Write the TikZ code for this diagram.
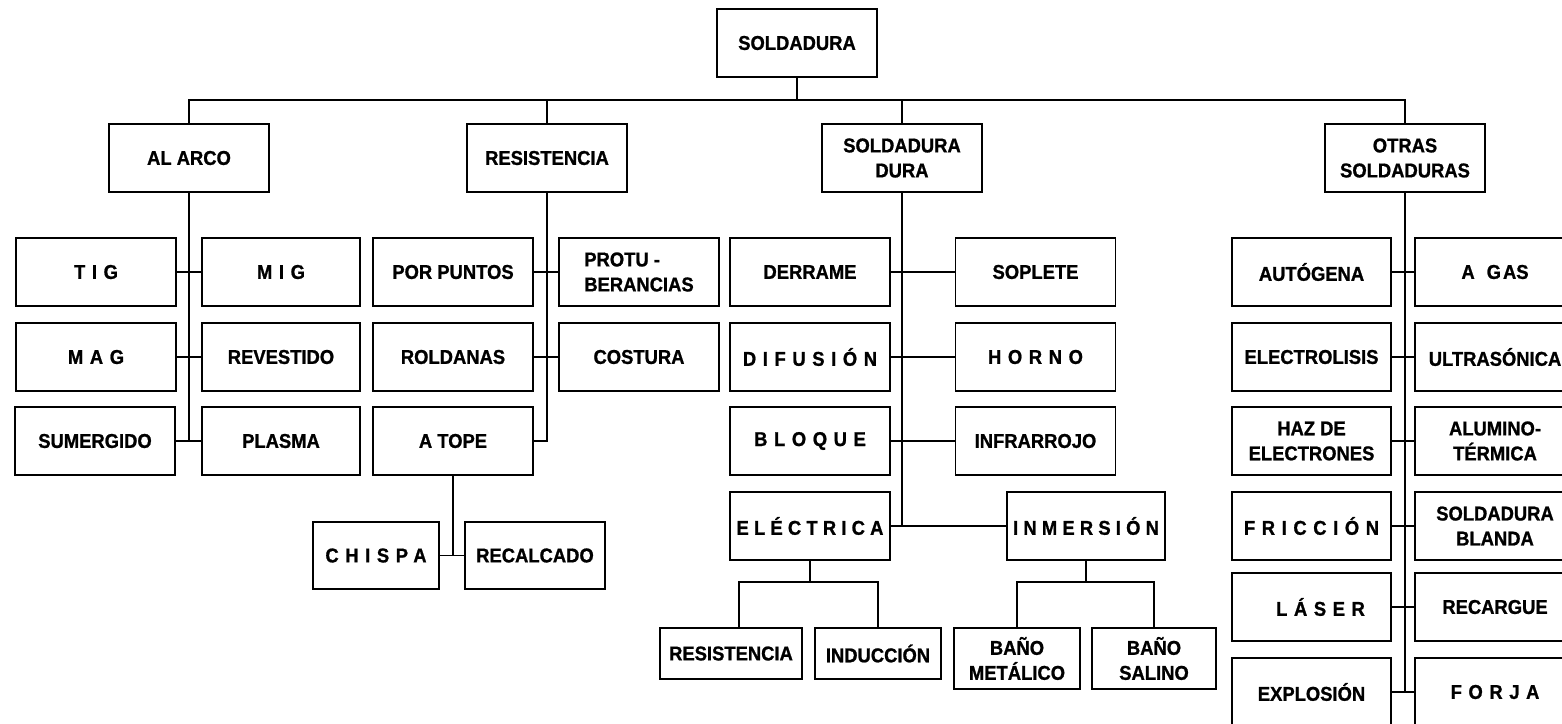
\documentclass[tikz,border=0pt]{standalone}
\usepackage{fontspec}
\setmainfont{Liberation Sans}[FakeStretch=0.92,BoldFeatures={FakeBold=1}]
\newcommand\lsp[1]{{\addfontfeature{LetterSpace=33}#1}}
\newcommand\lspn[1]{{\addfontfeature{LetterSpace=26}#1}}
\begin{document}
\begin{tikzpicture}[x=1pt,y=-1pt,
  box/.style={draw,line width=1.9pt,inner sep=0pt,minimum width=160pt,minimum height=68pt,
    align=center,font=\fontsize{20}{25}\selectfont\bfseries},
  link/.style={line width=1.9pt}]
\useasboundingbox (0,0) rectangle (1562,723);
\clip (0,0) rectangle (1562,723);
% root
\node[box] (root) at (797,43) {SOLDADURA};
% level 1
\node[box] (arco) at (189,158) {AL ARCO};
\node[box] (res) at (547,158) {RESISTENCIA};
\node[box] (dura) at (902,158) {SOLDADURA\\DURA};
\node[box] (otras) at (1405,158) {OTRAS\\SOLDADURAS};
% al arco
\node[box,minimum width=160pt] (tig) at (96,272) {\lsp{TIG}};
\node[box,minimum width=158pt] (mig) at (281,272) {\lsp{MIG}};
\node[box,minimum width=160pt] (mag) at (96,357) {\lsp{MAG}};
\node[box,minimum width=158pt] (rev) at (281,357) {REVESTIDO};
\node[box,minimum width=160pt] (sum) at (95,441) {SUMERGIDO};
\node[box,minimum width=158pt] (pla) at (281,441) {PLASMA};
% resistencia
\node[box] (pun) at (453,272) {POR PUNTOS};
\node[box,align=left] (pro) at (639,272) {PROTU -\\BERANCIAS};
\node[box] (rol) at (453,357) {ROLDANAS};
\node[box] (cos) at (639,357) {COSTURA};
\node[box] (top) at (453,441) {A TOPE};
\node[box,minimum width=126pt,minimum height=67pt] (chi) at (376,555.5) {\lsp{CHISPA}};
\node[box,minimum width=140pt,minimum height=67pt] (rec) at (535,555.5) {RECALCADO};
% soldadura dura
\node[box] (der) at (810,272) {DERRAME};
\node[box] (sop) at (1035.5,272) {SOPLETE};
\node[box] (dif) at (810,357) {\lsp{DIFUSIÓN}};
\node[box] (hor) at (1035.5,357) {\lsp{HORNO}};
\node[box] (blo) at (810,441) {\lsp{BLOQUE}};
\node[box] (inf) at (1035.5,441) {INFRARROJO};
\node[box] (ele) at (810,526) {\lspn{ELÉCTRICA}};
\node[box,minimum width=158pt] (inm) at (1086,526) {\lspn{INMERSIÓN}};
\node[box,minimum width=142pt,minimum height=51pt] (res2) at (731,653.5) {RESISTENCIA};
\node[box,minimum width=126pt,minimum height=51pt] (ind) at (878,653.5) {INDUCCIÓN};
\node[box,minimum width=126pt,minimum height=61pt] (bm) at (1017,658.5) {BAÑO\\METÁLICO};
\node[box,minimum width=124pt,minimum height=61pt] (bs) at (1154,658.5) {BAÑO\\SALINO};
% otras
\node[box,minimum width=159pt] (aut) at (1311.5,272) {AUTÓGENA};
\node[box] (gas) at (1495,272) {A\hspace{0.6em}G\hspace{0.1em}AS};
\node[box,minimum width=159pt] (elt) at (1311.5,357) {ELECTROLISIS};
\node[box] (ult) at (1495,357) {ULTRASÓNICA};
\node[box,minimum width=159pt] (haz) at (1311.5,441) {HAZ DE\\ELECTRONES};
\node[box] (alu) at (1495,441) {ALUMINO-\\TÉRMICA};
\node[box,minimum width=159pt] (fri) at (1311.5,526) {\lsp{FRICCIÓN}};
\node[box] (bla) at (1495,526) {SOLDADURA\\BLANDA};
\node[box,minimum width=159pt] (las) at (1311.5,607) {\hspace{18pt}\lsp{LÁSER}};
\node[box] (rcg) at (1495,607) {RECARGUE};
\node[box,minimum width=159pt] (exp) at (1311.5,692) {EXPLOSIÓN};
\node[box] (for) at (1495,692) {\lsp{FORJA}};
% connectors: root bus
\coordinate (bus) at (0,100);
\draw[link] (root.south) -- (root.south |- bus);
\draw[link] (arco.north) -- (arco.north |- bus) -- (otras.north |- bus) -- (otras.north);
\draw[link] (res.north) -- (res.north |- bus);
\draw[link] (dura.north) -- (dura.north |- bus);
% al arco
\draw[link] (arco.south) -- (arco.south |- sum.east);
\draw[link] (tig.east) -- (mig.west);
\draw[link] (mag.east) -- (rev.west);
\draw[link] (sum.east) -- (pla.west);
% resistencia
\draw[link] (res.south) -- (res.south |- top.east) -- (top.east);
\draw[link] (pun.east) -- (pro.west);
\draw[link] (rol.east) -- (cos.west);
\draw[link] (top.south) -- (top.south |- chi.east);
\draw[link] (chi.east) -- (rec.west);
% soldadura dura
\draw[link] (dura.south) -- (dura.south |- ele.east);
\draw[link] (der.east) -- (sop.west);
\draw[link] (dif.east) -- (hor.west);
\draw[link] (blo.east) -- (inf.west);
\draw[link] (ele.east) -- (inm.west);
\coordinate (sub) at (0,582);
\draw[link] (ele.south) -- (ele.south |- sub);
\draw[link] ([xshift=8pt]res2.north) -- ([xshift=8pt]res2.north |- sub) -- (ind.north |- sub) -- (ind.north);
\draw[link] (inm.south) -- (inm.south |- sub);
\draw[link] (bm.north) -- (bm.north |- sub) -- (bs.north |- sub) -- (bs.north);
% otras
\draw[link] (otras.south) -- (otras.south |- exp.east);
\draw[link] (aut.east) -- (gas.west);
\draw[link] (elt.east) -- (ult.west);
\draw[link] (haz.east) -- (alu.west);
\draw[link] (fri.east) -- (bla.west);
\draw[link] (las.east) -- (rcg.west);
\draw[link] (exp.east) -- (for.west);
\end{tikzpicture}
\end{document}
